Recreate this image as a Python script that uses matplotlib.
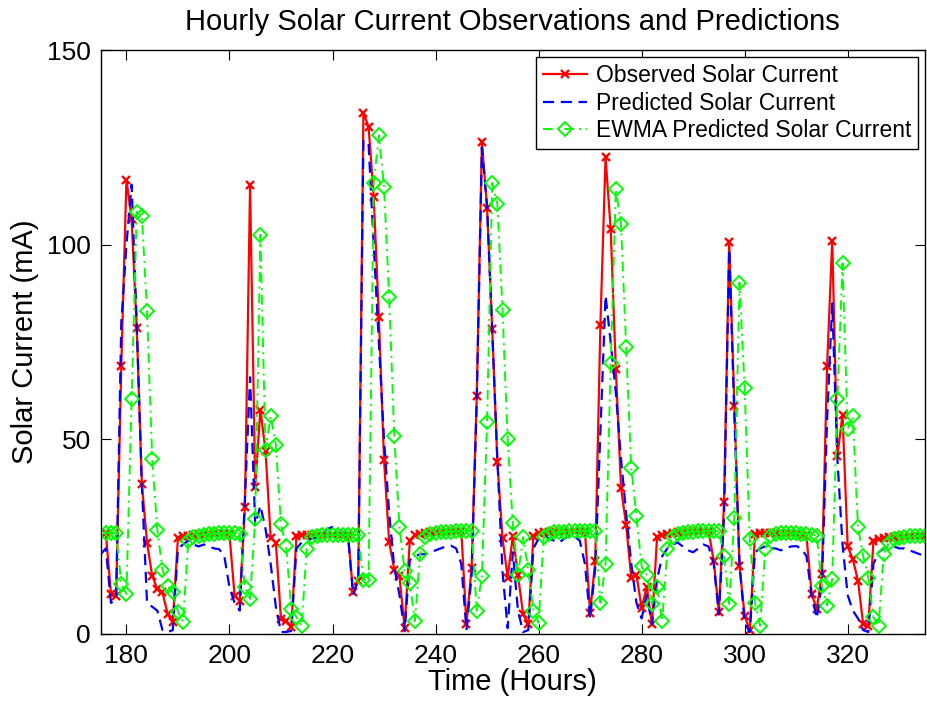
import numpy as np
import matplotlib
matplotlib.use("Agg")
import matplotlib.pyplot as plt

plt.rcParams['font.family'] = ['Liberation Sans', 'DejaVu Sans']

# hourly observed solar current (mA), hours 176..335
obs_hours = np.arange(176, 336)
observed = [
    26.0, 10.3, 9.8, 68.8, 116.8, 106.8, 78.6, 38.5, 23.5, 15.0,
    11.5, 10.7, 5.1, 3.0, 24.8, 25.1, 25.3, 25.5, 25.6, 25.8,
    25.9, 26.0, 26.0, 26.0, 25.6, 9.8, 8.5, 32.7, 115.4, 37.9,
    57.7, 47.0, 24.8, 23.5, 3.8, 3.4, 1.7, 25.2, 25.4, 25.4,
    25.5, 25.5, 25.5, 25.5, 25.5, 25.5, 25.5, 25.5, 10.8, 13.5,
    134.0, 130.4, 112.4, 81.4, 44.7, 23.6, 16.5, 14.8, 1.6, 24.0,
    25.5, 25.8, 26.0, 26.1, 26.2, 26.3, 26.4, 26.5, 26.5, 26.6,
    2.5, 17.0, 61.2, 126.5, 109.6, 78.5, 44.2, 24.6, 14.5, 25.2,
    15.2, 5.1, 2.5, 25.3, 26.0, 26.2, 26.3, 26.4, 26.5, 26.5,
    26.5, 26.5, 26.5, 26.5, 5.5, 18.7, 79.5, 122.5, 104.0, 68.0,
    37.6, 28.0, 14.3, 15.2, 6.7, 12.1, 2.5, 24.9, 25.5, 25.8,
    26.0, 26.2, 26.3, 26.4, 26.5, 26.5, 26.5, 26.5, 18.8, 5.6,
    33.9, 100.8, 58.7, 17.5, 4.7, 0.9, 25.6, 26.0, 26.0, 26.0,
    26.0, 25.9, 25.8, 25.7, 25.5, 25.3, 25.2, 10.3, 6.4, 15.4,
    68.8, 101.1, 45.7, 56.4, 22.5, 19.2, 13.7, 2.6, 2.1, 23.9,
    24.5, 24.8, 25.0, 25.0, 25.1, 25.2, 25.2, 25.3, 25.3, 25.3,
]

# predicted solar current, hours 175..335
pred_hours = np.arange(175, 336)
predicted = [
    20.5, 22.0, 8.0, 9.0, 80.0, 100.0, 115.5, 80.0, 38.0, 8.0,
    7.0, 6.0, 1.0, 0.5, 1.0, 22.0, 23.0, 24.0, 23.0, 22.5,
    23.0, 22.5, 22.0, 21.8, 20.0, 12.0, 8.0, 6.0, 35.0, 66.0,
    28.0, 33.0, 27.0, 18.0, 7.0, 0.5, 0.5, 0.8, 22.0, 23.5,
    24.0, 24.5, 25.0, 26.0, 27.0, 27.5, 27.0, 26.2, 25.5, 10.0,
    14.0, 127.0, 126.0, 100.0, 75.0, 50.0, 31.0, 17.0, 10.0, 0.7,
    19.0, 20.0, 20.5, 20.5, 21.0, 21.5, 22.0, 22.5, 22.7, 22.0,
    18.0, 1.0, 15.0, 60.0, 125.0, 110.0, 78.0, 45.0, 16.0, 1.5,
    21.0, 6.0, 0.5, 1.0, 22.0, 24.5, 25.5, 24.5, 24.0, 23.5,
    24.5, 25.3, 25.0, 24.0, 18.0, 4.0, 17.0, 52.0, 87.0, 75.0,
    62.0, 45.0, 31.0, 18.0, 8.0, 4.0, 10.0, 2.5, 14.0, 20.0,
    22.0, 23.0, 23.5, 22.5, 21.5, 21.0, 22.0, 23.0, 22.5, 18.0,
    5.0, 30.0, 99.0, 56.0, 18.0, 3.0, 0.5, 21.0, 22.0, 22.5,
    22.0, 22.0, 21.5, 22.0, 22.5, 22.6, 22.0, 20.0, 10.0, 4.0,
    13.0, 55.0, 85.0, 45.0, 23.0, 10.0, 6.0, 4.0, 1.0, 0.5,
    18.0, 21.0, 22.0, 22.5, 22.5, 22.0, 22.0, 21.5, 21.0, 20.5,
    20.0,
]

# EWMA prediction, hours 176..335
ewma_hours = np.arange(176, 336)
ewma = [
    26.0, 26.0, 26.0, 12.8, 10.3, 60.3, 108.5, 107.4, 82.9, 45.0,
    26.7, 16.5, 12.4, 10.7, 5.7, 3.2, 23.9, 25.0, 25.3, 25.5,
    25.6, 25.8, 25.9, 26.0, 26.0, 26.0, 25.7, 12.0, 9.0, 29.5,
    102.6, 47.4, 56.0, 48.7, 28.2, 22.5, 6.4, 4.3, 2.1, 21.8,
    25.0, 25.3, 25.4, 25.4, 25.5, 25.5, 25.5, 25.5, 25.5, 25.5,
    14.0, 14.0, 115.9, 128.2, 115.0, 86.5, 50.8, 27.5, 16.1, 13.0,
    3.3, 20.5, 24.9, 25.6, 25.9, 26.1, 26.2, 26.3, 26.4, 26.5,
    26.6, 26.6, 6.0, 15.0, 54.4, 116.0, 110.6, 83.4, 50.0, 28.4,
    15.2, 24.9, 16.4, 6.0, 2.9, 24.9, 25.8, 26.1, 26.2, 26.3,
    26.4, 26.5, 26.5, 26.5, 26.5, 26.5, 8.0, 18.0, 69.7, 114.3,
    105.4, 73.7, 42.7, 30.2, 17.4, 15.2, 7.7, 12.1, 3.3, 21.8,
    25.0, 25.6, 26.0, 26.2, 26.3, 26.4, 26.5, 26.5, 26.5, 26.5,
    20.0, 7.7, 29.9, 90.3, 63.2, 24.4, 8.0, 2.1, 21.8, 25.2,
    25.8, 26.0, 26.0, 26.0, 25.9, 25.8, 25.6, 25.5, 25.3, 12.4,
    7.3, 14.1, 60.3, 95.3, 52.6, 56.0, 27.4, 20.1, 14.5, 4.3,
    2.1, 20.5, 23.5, 24.4, 24.8, 25.0, 25.1, 25.2, 25.3, 25.3,
]

xticks = [180, 200, 220, 240, 260, 280, 300, 320]
yticks = [0, 50, 100, 150]

fig = plt.figure(figsize=(9.27, 7.02), dpi=100)
ax = fig.add_axes([0.1086, 0.0969, 0.8892, 0.8312])

ax.plot(obs_hours, observed, '-', color='red', lw=1.6, marker='x',
        ms=6, mew=1.7, label='Observed Solar Current')
ax.plot(pred_hours, predicted, '--', color='blue', lw=1.6, dashes=(5, 3),
        label='Predicted Solar Current')
ax.plot(ewma_hours, ewma, '-.', color='#00ff00', lw=1.4, dashes=(5, 2.5, 1, 2.5),
        marker='D', ms=7, mew=1.4, mfc='none', mec='#00ff00',
        label='EWMA Predicted Solar Current')

ax.set_xlim(175, 335)
ax.set_ylim(0, 150)
ax.set_xticks(xticks)
ax.set_yticks(yticks)
ax.tick_params(direction='in', top=True, right=True, length=7, width=0.8,
               labelsize=19)
ax.tick_params(axis='x', pad=7)
ax.tick_params(axis='y', pad=7)
for s in ax.spines.values():
    s.set_linewidth(1.0)

ax.set_xlabel('Time (Hours)', fontsize=21, labelpad=0)
ax.set_ylabel('Solar Current (mA)', fontsize=21, labelpad=6)
ax.set_title('Hourly Solar Current Observations and Predictions',
             fontsize=21, pad=15)

leg = ax.legend(loc='upper right', fontsize=16.5, frameon=True, fancybox=False,
                edgecolor='black', framealpha=1, borderaxespad=0.3,
                handlelength=1.9, handletextpad=0.4, labelspacing=0.2,
                borderpad=0.3)
leg.get_frame().set_linewidth(1.0)

fig.savefig('out.png', dpi=100)
